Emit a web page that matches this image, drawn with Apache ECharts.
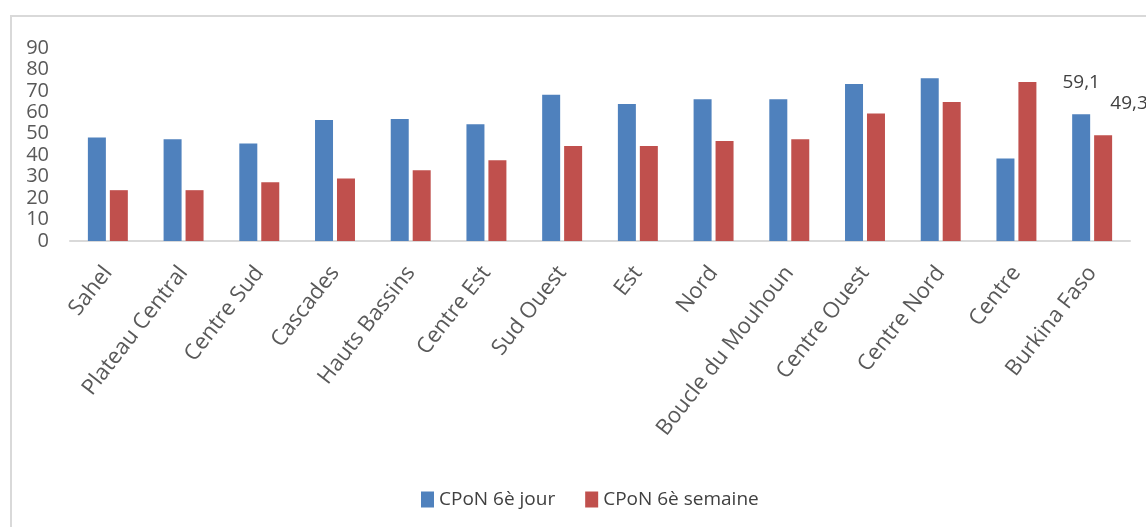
<!DOCTYPE html>
<html>
<head>
<meta charset="utf-8">
<script src="https://cdn.jsdelivr.net/npm/echarts@6/dist/echarts.min.js"></script>
<style>
  html, body { margin: 0; padding: 0; background: #fff; }
  #chart { width: 1146px; height: 527px; }
</style>
</head>
<body>
<div id="chart"></div>
<script>
// regions (x axis)
var regions = [
  "Sahel", "Plateau Central", "Centre Sud", "Cascades", "Hauts Bassins",
  "Centre Est", "Sud Ouest", "Est", "Nord", "Boucle du Mouhoun",
  "Centre Ouest", "Centre Nord", "Centre", "Burkina Faso"
];
// CPoN 6è jour
var jour = [48.3, 47.4, 45.5, 56.4, 56.9, 54.5, 68.2, 63.9, 66.1, 66.1, 73.2, 75.9, 38.5, 59.1];
// CPoN 6è semaine
var semaine = [23.7, 23.7, 27.4, 29.2, 33.0, 37.7, 44.3, 44.3, 46.6, 47.4, 59.5, 64.8, 74.2, 49.3];
var yTicks = { min: 0, max: 90, step: 10 };

var fontFam = "'Open Sans', 'Noto Sans', sans-serif";

function withLabel(arr, idx, offset) {
  return arr.map(function (v, i) {
    if (i !== idx) return v;
    return {
      value: v,
      label: {
        show: true,
        position: "top",
        distance: 22,
        offset: offset,
        color: "#404040",
        fontSize: 19,
        fontFamily: fontFam,
        formatter: function (p) {
          return String(p.value).replace(".", ",");
        },
      },
    };
  });
}

var myChart = echarts.init(document.getElementById("chart"));
var option = {
  animation: false,
  color: ["#4f81bd", "#c0504d"],
  graphic: [
    {
      type: "polyline",
      shape: { points: [[11, 527], [11, 16], [1146, 16]] },
      style: { stroke: "#d9d9d9", lineWidth: 2, fill: null },
    },
  ],
  legend: {
    left: 416,
    top: 485,
    itemWidth: 13,
    itemHeight: 16,
    itemGap: 30,
    icon: "rect",
    textStyle: { color: "#404040", fontSize: 19, fontFamily: fontFam },
    data: ["CPoN 6è jour", "CPoN 6è semaine"],
  },
  grid: {
    left: 70,
    right: 16,
    top: 48,
    bottom: 286,
    containLabel: false,
  },
  xAxis: {
    type: "category",
    data: regions,
    axisLine: { lineStyle: { color: "#d9d9d9", width: 2 } },
    axisTick: { show: false },
    axisLabel: {
      interval: 0,
      rotate: 52,
      margin: 28,
      color: "#595959",
      fontSize: 22,
      fontFamily: fontFam,
    },
  },
  yAxis: {
    type: "value",
    min: yTicks.min,
    max: yTicks.max,
    interval: yTicks.step,
    axisLine: { show: false },
    axisTick: { show: false },
    splitLine: { show: false },
    axisLabel: {
      margin: 21,
      color: "#595959",
      fontSize: 20,
      fontFamily: fontFam,
    },
  },
  series: [
    {
      name: "CPoN 6è jour",
      type: "bar",
      data: withLabel(jour, 13, [0, 0]),
      barWidth: 18,
      barGap: "22%",
    },
    {
      name: "CPoN 6è semaine",
      type: "bar",
      data: withLabel(semaine, 13, [26, 0]),
      barWidth: 18,
      barGap: "22%",
    },
  ],
};
myChart.setOption(option, true);
window.addEventListener("resize", function () {
  myChart.resize();
});
</script>
</body>
</html>
